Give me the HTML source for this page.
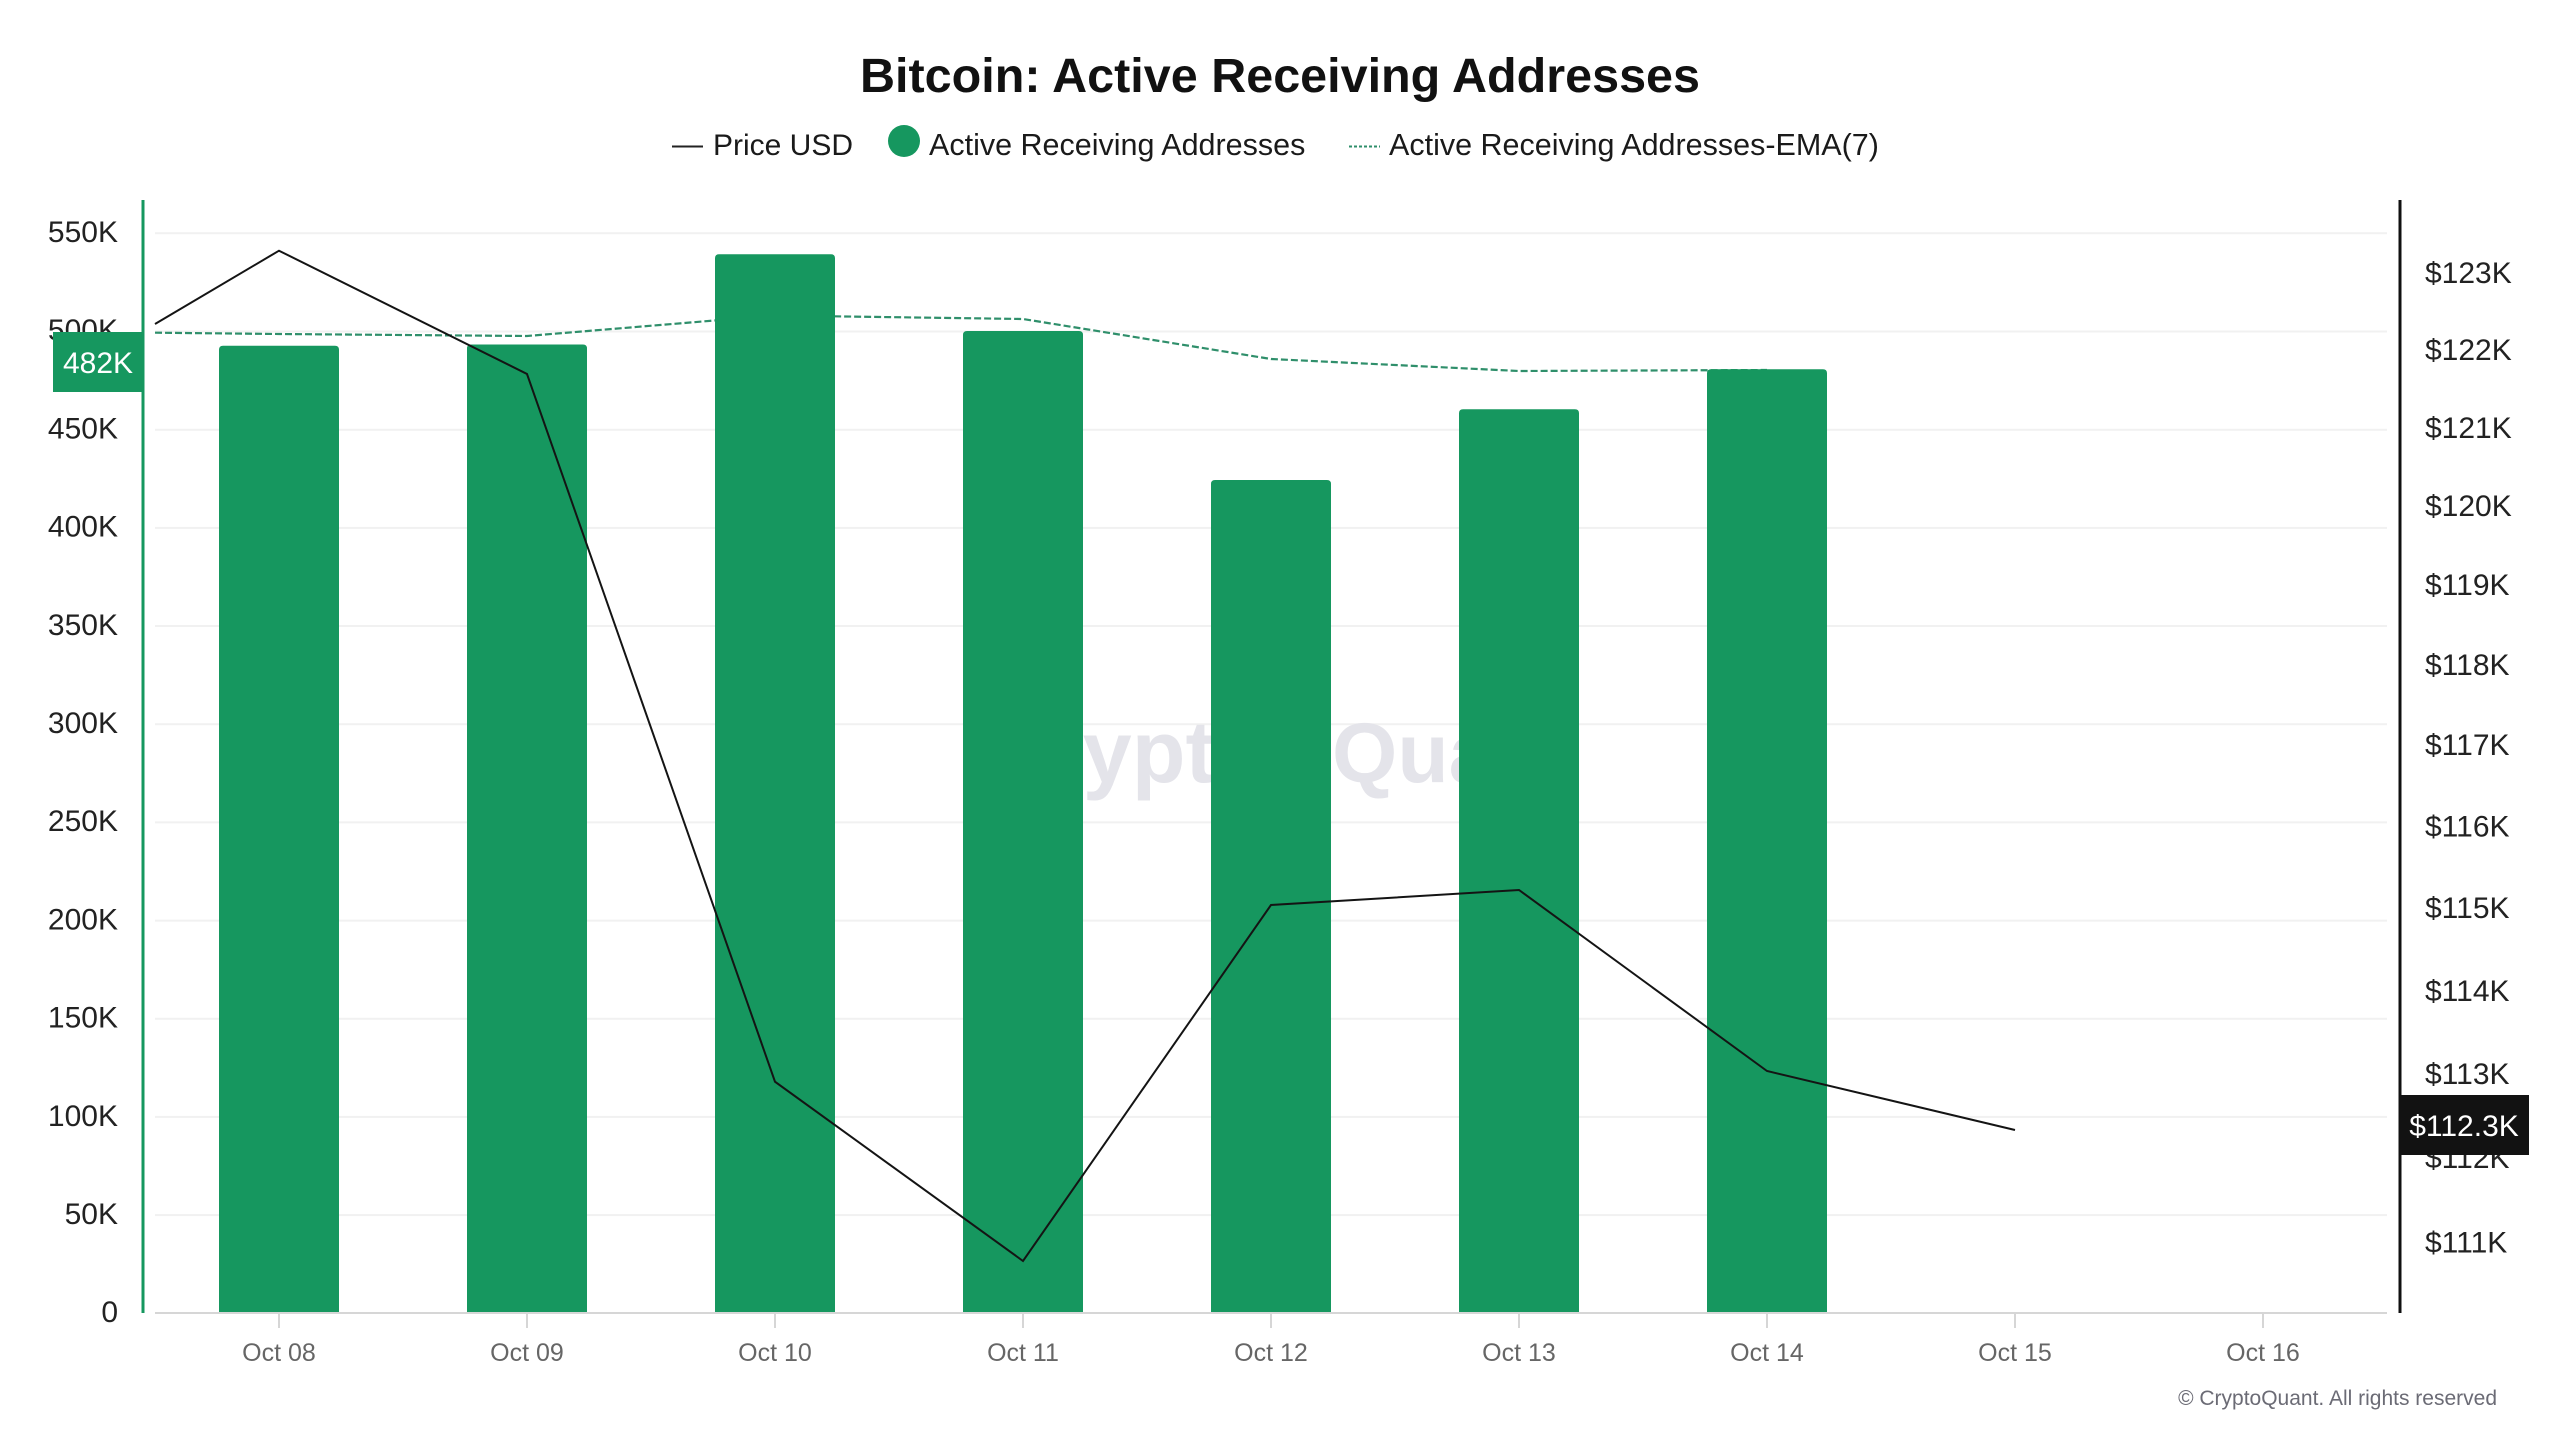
<!DOCTYPE html>
<html>
<head>
<meta charset="utf-8">
<style>
  html, body { margin: 0; padding: 0; background: #ffffff; }
  svg { display: block; }
  text { font-family: "Liberation Sans", "DejaVu Sans", sans-serif; }
</style>
</head>
<body>
<svg width="2560" height="1440" viewBox="0 0 2560 1440" xmlns="http://www.w3.org/2000/svg">
  <rect x="0" y="0" width="2560" height="1440" fill="#ffffff"/>

  <!-- Title -->
  <text x="1280" y="92" text-anchor="middle" font-size="48.5" font-weight="bold" fill="#111111">Bitcoin: Active Receiving Addresses</text>

  <!-- Legend -->
  <line x1="672" y1="146.5" x2="703" y2="146.5" stroke="#222" stroke-width="2"/>
  <text x="713" y="155" font-size="30" fill="#1a1a1a">Price USD</text>
  <circle cx="904" cy="141" r="16" fill="#16975f"/>
  <text x="929" y="155" font-size="30.5" fill="#1a1a1a">Active Receiving Addresses</text>
  <line x1="1349" y1="146.5" x2="1380" y2="146.5" stroke="#2f8f6b" stroke-width="2" stroke-dasharray="3,2"/>
  <text x="1389" y="155" font-size="30.5" fill="#1a1a1a">Active Receiving Addresses-EMA(7)</text>

  <!-- Gridlines -->
  <g stroke="#f1f1f1" stroke-width="2">
    <line x1="155" y1="1215.1" x2="2387" y2="1215.1"/>
    <line x1="155" y1="1116.9" x2="2387" y2="1116.9"/>
    <line x1="155" y1="1018.8" x2="2387" y2="1018.8"/>
    <line x1="155" y1="920.6" x2="2387" y2="920.6"/>
    <line x1="155" y1="822.4" x2="2387" y2="822.4"/>
    <line x1="155" y1="724.2" x2="2387" y2="724.2"/>
    <line x1="155" y1="626.0" x2="2387" y2="626.0"/>
    <line x1="155" y1="527.9" x2="2387" y2="527.9"/>
    <line x1="155" y1="429.7" x2="2387" y2="429.7"/>
    <line x1="155" y1="331.5" x2="2387" y2="331.5"/>
    <line x1="155" y1="233.3" x2="2387" y2="233.3"/>
  </g>

  <!-- Watermark -->
  <text x="985" y="782" font-size="88" font-weight="bold" fill="#e4e4ea">Crypto</text>
  <text x="1332" y="782" font-size="84" font-weight="bold" fill="#e4e4ea">Quant</text>

  <!-- EMA line (behind bars) -->
  <polyline fill="none" stroke="#2f8f6b" stroke-width="2.2" stroke-dasharray="7,3"
    points="155,332.7 279,334 527,336 775,315.5 1023,319 1271,359 1519,371 1767,370"/>

  <!-- Bars -->
  <g fill="#16975f">
    <path d="M219,1313 L219,349.7 Q219,345.7 223,345.7 L335,345.7 Q339,345.7 339,349.7 L339,1313 Z"/>
    <path d="M467,1313 L467,348.5 Q467,344.5 471,344.5 L583,344.5 Q587,344.5 587,348.5 L587,1313 Z"/>
    <path d="M715,1313 L715,258.3 Q715,254.3 719,254.3 L831,254.3 Q835,254.3 835,258.3 L835,1313 Z"/>
    <path d="M963,1313 L963,335 Q963,331 967,331 L1079,331 Q1083,331 1083,335 L1083,1313 Z"/>
    <path d="M1211,1313 L1211,484 Q1211,480 1215,480 L1327,480 Q1331,480 1331,484 L1331,1313 Z"/>
    <path d="M1459,1313 L1459,413.3 Q1459,409.3 1463,409.3 L1575,409.3 Q1579,409.3 1579,413.3 L1579,1313 Z"/>
    <path d="M1707,1313 L1707,373.3 Q1707,369.3 1711,369.3 L1823,369.3 Q1827,369.3 1827,373.3 L1827,1313 Z"/>
  </g>

  <!-- Price line -->
  <polyline fill="none" stroke="#141414" stroke-width="2" stroke-linejoin="miter"
    points="155,324 279,250.7 527,374 775,1081.7 1023,1261 1271,905 1519,890 1767,1071 2015,1130"/>

  <!-- X axis -->
  <line x1="155" y1="1313" x2="2387" y2="1313" stroke="#d6d6d6" stroke-width="2"/>
  <g stroke="#d6d6d6" stroke-width="2">
    <line x1="279" y1="1313" x2="279" y2="1328"/>
    <line x1="527" y1="1313" x2="527" y2="1328"/>
    <line x1="775" y1="1313" x2="775" y2="1328"/>
    <line x1="1023" y1="1313" x2="1023" y2="1328"/>
    <line x1="1271" y1="1313" x2="1271" y2="1328"/>
    <line x1="1519" y1="1313" x2="1519" y2="1328"/>
    <line x1="1767" y1="1313" x2="1767" y2="1328"/>
    <line x1="2015" y1="1313" x2="2015" y2="1328"/>
    <line x1="2263" y1="1313" x2="2263" y2="1328"/>
  </g>
  <g font-size="25" fill="#666666" text-anchor="middle">
    <text x="279" y="1361">Oct 08</text>
    <text x="527" y="1361">Oct 09</text>
    <text x="775" y="1361">Oct 10</text>
    <text x="1023" y="1361">Oct 11</text>
    <text x="1271" y="1361">Oct 12</text>
    <text x="1519" y="1361">Oct 13</text>
    <text x="1767" y="1361">Oct 14</text>
    <text x="2015" y="1361">Oct 15</text>
    <text x="2263" y="1361">Oct 16</text>
  </g>

  <!-- Left axis -->
  <line x1="143" y1="200" x2="143" y2="1313" stroke="#16975f" stroke-width="3"/>
  <g font-size="30" fill="#222222" text-anchor="end">
    <text x="118" y="1322">0</text>
    <text x="118" y="1224">50K</text>
    <text x="118" y="1126">100K</text>
    <text x="118" y="1027.5">150K</text>
    <text x="118" y="929.5">200K</text>
    <text x="118" y="831">250K</text>
    <text x="118" y="733">300K</text>
    <text x="118" y="635">350K</text>
    <text x="118" y="536.5">400K</text>
    <text x="118" y="438.5">450K</text>
    <text x="118" y="340">500K</text>
    <text x="118" y="242">550K</text>
  </g>
  <rect x="53" y="332" width="90" height="60" fill="#16975f"/>
  <text x="98" y="373" font-size="30" fill="#ffffff" text-anchor="middle">482K</text>

  <!-- Right axis -->
  <line x1="2400" y1="200" x2="2400" y2="1313" stroke="#111111" stroke-width="3"/>
  <g font-size="30" fill="#222222">
    <text x="2425" y="283">$123K</text>
    <text x="2425" y="360">$122K</text>
    <text x="2425" y="438">$121K</text>
    <text x="2425" y="516">$120K</text>
    <text x="2425" y="595">$119K</text>
    <text x="2425" y="675">$118K</text>
    <text x="2425" y="755">$117K</text>
    <text x="2425" y="836.5">$116K</text>
    <text x="2425" y="918">$115K</text>
    <text x="2425" y="1001">$114K</text>
    <text x="2425" y="1084">$113K</text>
    <text x="2425" y="1168">$112K</text>
    <text x="2425" y="1252.5">$111K</text>
  </g>
  <rect x="2400" y="1095" width="129" height="60" fill="#121212"/>
  <text x="2464" y="1136" font-size="30" fill="#ffffff" text-anchor="middle">$112.3K</text>

  <!-- Copyright -->
  <text x="2497" y="1405" font-size="21" fill="#6b6b75" text-anchor="end">© CryptoQuant. All rights reserved</text>
</svg>
</body>
</html>
